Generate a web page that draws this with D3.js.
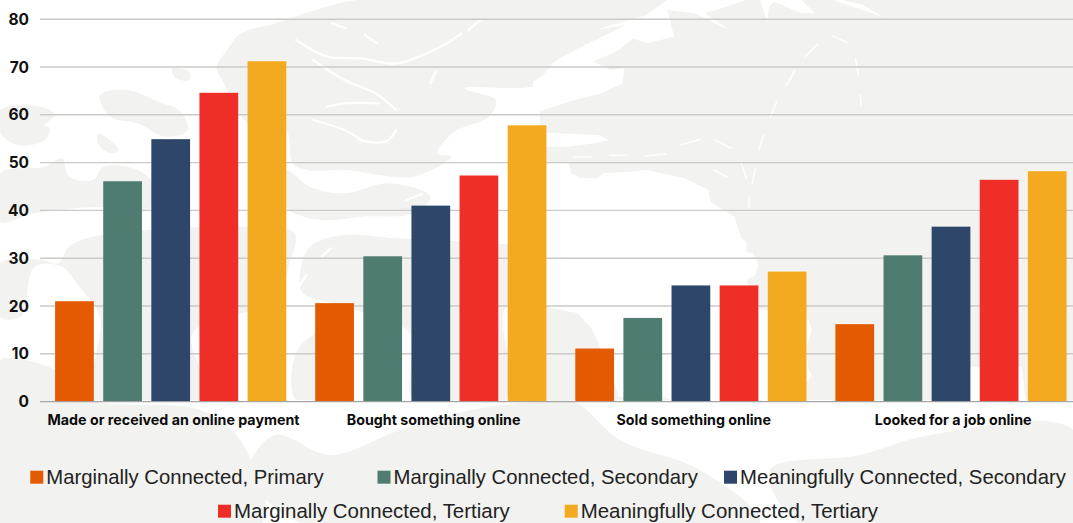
<!DOCTYPE html>
<html><head><meta charset="utf-8">
<script src="https://cdn.jsdelivr.net/npm/d3@7"></script>
<style>html,body{margin:0;padding:0;background:#fff;overflow:hidden}svg{display:block}</style>
</head><body><svg id="c" width="1073" height="523"></svg>
<script>
const categories=["Made or received an online payment","Bought something online","Sold something online","Looked for a job online"];
const seriesNames=["Marginally Connected, Primary","Marginally Connected, Secondary","Meaningfully Connected, Secondary","Marginally Connected, Tertiary","Meaningfully Connected, Tertiary"];
const seriesColors=["#e35a00","#4f7c70","#2e4669","#ef2f27","#f3aa20"];
const marginallyPrimary=[21,20.6,11.1,16.2];
const marginallySecondary=[46.1,30.4,17.5,30.6];
const meaningfullySecondary=[54.9,41,24.3,36.6];
const marginallyTertiary=[64.6,47.3,24.3,46.4];
const meaningfullyTertiary=[71.2,57.8,27.2,48.2];
const seriesValues=[marginallyPrimary,marginallySecondary,meaningfullySecondary,marginallyTertiary,meaningfullyTertiary];
const yTicks=[0,10,20,30,40,50,60,70,80];

// decorative map backdrop, traced loosely (not data)
const landLeft=[
[[630,200],[660,150],[700,100],[800,70],[900,35],[1040,0],[1600,0],[1600,240],[1350,265],[1440,300],[1420,350],[1320,395],[1270,460],[1310,470],[1200,530],[1000,510],[890,510],[850,490],[830,390],[720,370],[650,250]],
[[290,285],[370,270],[470,310],[520,330],[545,390],[480,410],[400,370],[320,350]],
[[500,205],[550,215],[550,240],[510,235]],
[[285,400],[345,450],[320,460],[285,430]],
[[0,330],[120,320],[160,345],[130,375],[145,385],[130,420],[50,435],[0,395]],
[[0,520],[130,500],[180,475],[200,530],[270,540],[300,500],[400,510],[450,560],[430,630],[300,620],[100,640],[0,665]],
[[830,510],[900,560],[1000,580],[1130,550],[1250,590],[1200,640],[1050,650],[930,660],[830,620]],
[[0,790],[120,780],[170,790],[200,740],[270,710],[700,680],[855,700],[840,790],[800,900],[560,1000],[600,1200],[280,1200],[290,950],[230,860],[180,800],[100,800],[60,950],[0,950]],
[[870,830],[900,740],[1000,705],[1150,715],[1400,730],[1600,760],[1600,920],[1470,920],[1470,1200],[1200,1200],[1190,1000],[1000,920],[880,880]],
[[0,1080],[140,1100],[280,1200],[0,1200]],
[[860,1060],[920,1000],[1000,1000],[1000,1200],[860,1200]]
];
const channelsLeft=[
[[860,120],[950,170],[1050,175],[1150,190],[1280,140],[1340,100]],
[[910,180],[1000,240],[1090,280],[1150,330]],
[[950,320],[1000,310],[1100,310]],
[[1040,420],[1120,425],[1150,390]],
[[910,360],[1000,390],[1050,420]],
[[1060,105],[1095,130]],[[965,70],[1005,85]],[[1250,250],[1265,215]],[[1360,90],[1395,60]],
[[1180,600],[1225,582]],[[870,855],[890,825]],[[935,770],[960,745]]
];
const seaRight=[
[[0,245],[30,225],[60,185],[140,140],[270,75],[180,90],[330,45],[390,0],[620,0],[500,40],[570,90],[470,40],[390,30],[410,110],[330,130],[290,115],[250,150],[175,185],[225,210],[265,205],[260,250],[200,280],[120,300],[0,340]],
[[680,70],[685,20],[700,5],[780,40],[820,40],[780,0],[660,0]],
[[870,0],[1015,50],[960,15],[900,0]],
[[0,395],[70,400],[190,405],[220,420],[180,430],[100,440],[0,440]],
[[0,490],[105,490],[110,520],[140,535],[190,535],[200,520],[280,515],[330,510],[440,535],[510,570],[515,605],[585,650],[605,715],[620,725],[620,755],[640,760],[655,795],[645,825],[620,840],[650,925],[800,960],[810,990],[795,1040],[800,1110],[810,1125],[760,1200],[400,1200],[380,1190],[250,1190],[190,1030],[170,985],[130,940],[40,920],[0,920]],
[[1270,1100],[1420,1100],[1430,1200],[1270,1200]]
];
const dashesRight=[
[[430,435],[485,418]],[[530,420],[575,445]],[[655,450],[670,405]],[[690,350],[708,305]],[[735,258],[760,213]],[[790,170],[825,133]],[[870,108],[913,128]],[[937,178],[945,225]],[[120,472],[170,470]],[[222,466],[272,466]],[[325,468],[385,462]],[[605,490],[620,535]],[[645,505],[637,550]],[[525,510],[565,532]],[[950,285],[953,315]],[[628,590],[628,620]]
];
const landBottom=[[0,523],[0,372],[40,368],[90,400],[200,410],[240,440],[262,523]];
const landBottom2=[[300,523],[250,470],[275,435],[330,455],[400,430],[470,410],[533,402],[574,402],[620,440],[700,470],[760,523]];
const landBottom3=[[800,523],[770,470],[860,455],[930,435],[1073,430],[1073,523]];

const W=1073,H=523,sx=1/2.904,sy=1/3;
const svg=d3.select("#c");
const LAND="#f2f2f0";
const smooth=d3.line().curve(d3.curveCatmullRomClosed.alpha(.5));
const poly=d3.line().curve(d3.curveLinearClosed);
const open=d3.line().curve(d3.curveCatmullRom);
const bg=svg.append("g");
const z4=bg.append("g").attr("transform",`scale(${sx},${sy})`);
z4.selectAll("path.l").data(landLeft).join("path").attr("class","l").attr("d",smooth).attr("fill",LAND);
z4.selectAll("path.c").data(channelsLeft).join("path").attr("class","c").attr("d",open).attr("fill","none").attr("stroke","#fff").attr("stroke-width",7).attr("stroke-linecap","round");
bg.append("rect").attr("x",540).attr("y",0).attr("width",W-540).attr("height",H).attr("fill",LAND);
bg.append("rect").attr("x",0).attr("y",400).attr("width",W).attr("height",H-400).attr("fill","#fff");
const z5=bg.append("g").attr("transform",`translate(533,0) scale(${sx},${sy})`);
z5.selectAll("path.s").data(seaRight).join("path").attr("class","s").attr("d",poly).attr("fill","#fff");
z5.selectAll("path.d").data(dashesRight).join("path").attr("class","d").attr("d",open).attr("fill","none").attr("stroke","#fff").attr("stroke-width",5).attr("stroke-opacity",.85).attr("stroke-linecap","round");
bg.selectAll("path.b").data([landBottom,landBottom2,landBottom3]).join("path").attr("class","b").attr("d",smooth).attr("fill",LAND);

const y=d3.scaleLinear().domain([0,80]).range([401.6,19.2]);
const x0=d3.scaleBand().domain(categories).range([44,1084.4]);
const x1=d3.scaleBand().domain(seriesNames).range([11.1,242.3]).paddingInner(0.195);
const font="Inter, 'Liberation Sans', sans-serif";
const gy=svg.append("g");
gy.selectAll("line").data(yTicks).join("line")
 .attr("x1",40).attr("x2",W).attr("y1",d=>y(d)).attr("y2",d=>y(d))
 .attr("stroke",d=>d===0?"#a6a6a6":"#cacac8").attr("stroke-width",1.4);
gy.selectAll("text").data(yTicks).join("text")
 .attr("x",29).attr("y",d=>y(d)).attr("dy","0.36em").attr("text-anchor","end")
 .attr("font-family",font).attr("font-weight",700).attr("font-size",15.5).attr("fill","#111").text(d=>d);
const groups=svg.append("g").selectAll("g").data(categories).join("g").attr("transform",d=>`translate(${x0(d)},0)`);
groups.selectAll("rect").data((d,i)=>seriesNames.map((s,k)=>({s,k,v:seriesValues[k][i]}))).join("rect")
 .attr("x",d=>x1(d.s)).attr("width",x1.bandwidth()).attr("y",d=>y(d.v)).attr("height",d=>y(0)-y(d.v)-0.5).attr("fill",d=>seriesColors[d.k]);
groups.append("text").attr("x",(d,i)=>x0.bandwidth()/2-(i===3?1.2:.5)).attr("y",425).attr("text-anchor","middle")
 .attr("font-family",font).attr("font-weight",700).attr("font-size",14.25).attr("fill","#0b0b0b").text(d=>d);
const legendPos=[[30.3,477],[377.5,477],[724,477],[218,511],[564.7,511]];
const lg=svg.append("g").selectAll("g").data(seriesNames).join("g").attr("transform",(d,i)=>`translate(${legendPos[i][0]},${legendPos[i][1]})`);
lg.append("rect").attr("x",0).attr("y",-6.3).attr("width",13).attr("height",13).attr("fill",(d,i)=>seriesColors[i]);
lg.append("text").attr("x",16).attr("y",6.7).attr("font-family","'Liberation Sans',Arial,sans-serif").attr("font-size",(d,i)=>i>2?20.45:20.3).attr("fill","#222").text(d=>d);
</script></body></html>
